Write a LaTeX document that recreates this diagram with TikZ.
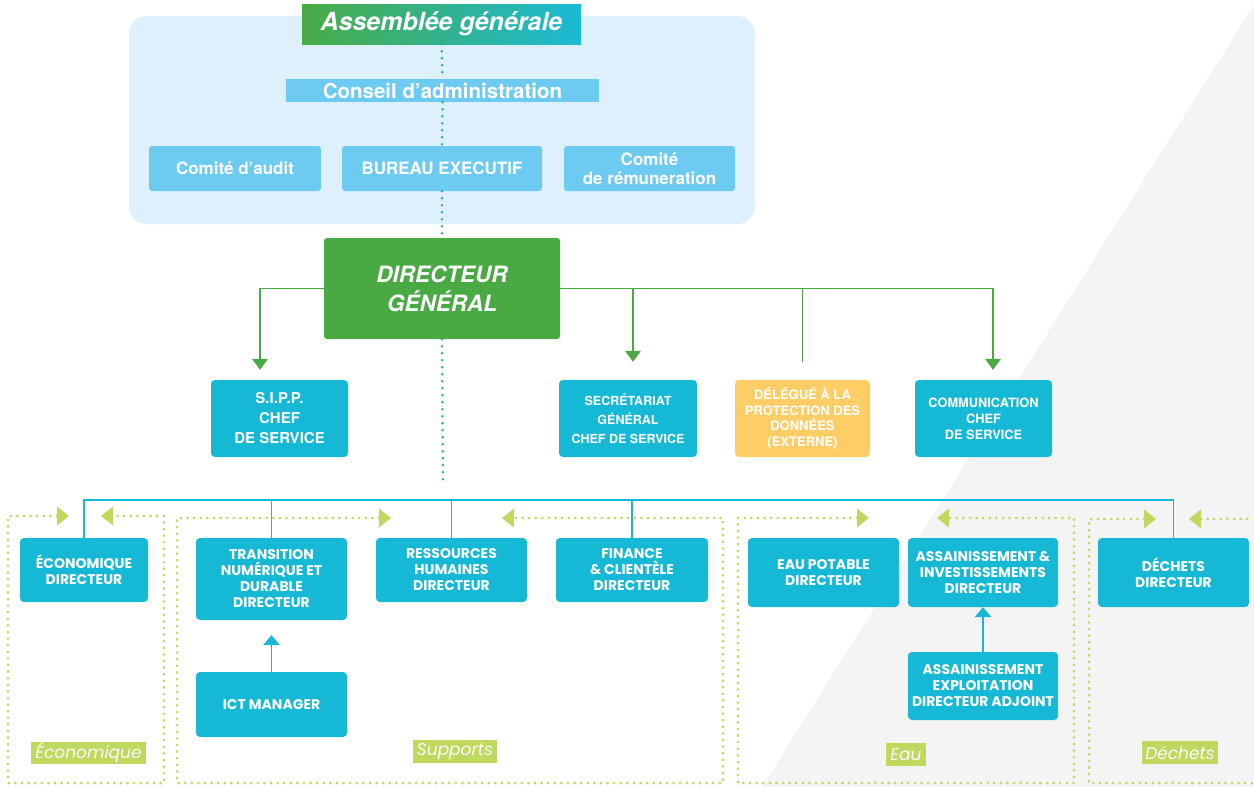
\documentclass[tikz,border=0pt]{standalone}
\usepackage{fontspec}
\setmainfont{TeX Gyre Heros}
\newfontfamily\pop{Poppins}
\usetikzlibrary{arrows.meta,calc}
\definecolor{cy}{HTML}{15B9D5}
\definecolor{lcy}{HTML}{6DCBF2}
\definecolor{bgb}{HTML}{DDF0FB}
\definecolor{gr}{HTML}{49A942}
\definecolor{lime}{HTML}{BFD85E}
\definecolor{org}{HTML}{FECD66}
\definecolor{tealdot}{HTML}{2BB38D}
\definecolor{grayback}{HTML}{F4F4F4}
\definecolor{agl}{HTML}{49AB45}
\definecolor{agr}{HTML}{1BBAD6}
\begin{document}
\begin{tikzpicture}[x=1pt,y=-1pt,
  every node/.style={inner sep=0pt, align=center, text=white},
  topbox/.style={fill=lcy, rounded corners=3pt, font=\bfseries\fontsize{17}{18.5}\selectfont},
  cbox/.style={fill=cy, rounded corners=4pt, font=\pop\bfseries\fontsize{14}{16}\selectfont},
  mbox/.style={fill=cy, rounded corners=4pt},
  grp/.style={fill=lime, font=\pop\itshape\fontsize{17}{17}\selectfont},
  dots/.style={draw=lime, line width=3pt, dash pattern=on 0pt off 6.6pt, line cap=round},
  ltip/.tip={Triangle[width=19pt,length=12pt,line width=0pt]},
  gline/.style={draw=gr, line width=1.6pt},
  gtip/.tip={Triangle[width=16pt,length=11pt,line width=0pt]},
  ctip/.tip={Triangle[width=17pt,length=10pt,line width=0pt]},
  bus/.style={draw=cy, line width=1.8pt},
  tdots/.style={draw=tealdot, line width=2.8pt, dash pattern=on 0pt off 7pt, line cap=round},
]
\useasboundingbox (0,0) rectangle (1254,787);
\fill[white] (0,0) rectangle (1254,787);
\fill[grayback] (1254,5) -- (1254,787) -- (762,787) -- cycle;
\fill[bgb, rounded corners=18pt] (129,16) rectangle (755,224);

% top
\node[minimum width=279pt, minimum height=40pt, left color=agl, right color=agr,
  font=\bfseries\itshape\fontsize{25}{25}\selectfont] (ag) at (441.5,24) {Assemblée générale};
\node[fill=lcy, minimum width=313pt, minimum height=23pt,
  font=\bfseries\fontsize{20.5}{20.5}\selectfont] (ca) at (442.5,90.5) {Conseil d’administration};
\node[topbox, minimum width=172pt, minimum height=45pt] (audit) at (235,168.5) {Comité d’audit};
\node[topbox, minimum width=200pt, minimum height=45pt] (be) at (442,168.5) {BUREAU EXECUTIF};
\node[topbox, minimum width=171pt, minimum height=45pt] (rem) at (649.5,168.5) {Comité\\de rémuneration};

\node[fill=gr, rounded corners=3pt, minimum width=236pt, minimum height=101pt,
  font=\bfseries\itshape\fontsize{22.5}{29}\selectfont] (dg) at (442,288.5) {DIRECTEUR\\GÉNÉRAL};

% middle row
\node[mbox, minimum width=137pt, minimum height=77pt, font=\bfseries\fontsize{15}{20}\selectfont] (sipp) at (279.5,418.5) {S.I.P.P.\\CHEF\\DE SERVICE};
\node[mbox, minimum width=138pt, minimum height=77pt, font=\bfseries\fontsize{12.5}{19}\selectfont] (sec) at (628,418.5) {SECRÉTARIAT\\GÉNÉRAL\\CHEF DE SERVICE};
\node[mbox, fill=org, minimum width=135pt, minimum height=77pt, font=\bfseries\fontsize{13}{15.5}\selectfont] (del) at (802.5,418.5) {DÉLÉGUÉ À LA\\PROTECTION DES\\DONNÉES\\(EXTERNE)};
\node[mbox, minimum width=137pt, minimum height=77pt, font=\bfseries\fontsize{12.8}{16}\selectfont] (comm) at (983.5,418.5) {COMMUNICATION\\CHEF\\DE SERVICE};

% bottom row
\node[cbox, minimum width=128pt, minimum height=64pt] (eco) at (84,570) {ÉCONOMIQUE\\DIRECTEUR};
\node[cbox, minimum width=151pt, minimum height=82pt] (trans) at (271.5,579) {TRANSITION\\NUMÉRIQUE ET\\DURABLE\\DIRECTEUR};
\node[cbox, minimum width=151pt, minimum height=65pt] (ict) at (271.5,704.5) {ICT MANAGER};
\node[cbox, minimum width=151pt, minimum height=64pt] (rh) at (451.5,570) {RESSOURCES\\HUMAINES\\DIRECTEUR};
\node[cbox, minimum width=152pt, minimum height=64pt] (fin) at (632,570) {FINANCE\\\& CLIENTÈLE\\DIRECTEUR};
\node[cbox, minimum width=151pt, minimum height=69pt] (eau) at (823.5,572.5) {EAU POTABLE\\DIRECTEUR};
\node[cbox, minimum width=150pt, minimum height=69pt] (ai) at (983,572.5) {ASSAINISSEMENT \&\\INVESTISSEMENTS\\DIRECTEUR};
\node[cbox, minimum width=150pt, minimum height=68pt] (ae) at (983,686) {ASSAINISSEMENT\\EXPLOITATION\\DIRECTEUR ADJOINT};
\node[cbox, minimum width=151pt, minimum height=69pt] (dech) at (1173.5,572.5) {DÉCHETS\\DIRECTEUR};

% group labels
\node[grp, minimum width=115pt, minimum height=22pt] (lecon) at (88.5,753) {Économique};
\node[grp, minimum width=84pt, minimum height=23pt] (lsup) at (455,751.5) {Supports};
\node[grp, minimum width=40pt, minimum height=23pt] (leau) at (906,754.5) {Eau};
\node[grp, minimum width=76pt, minimum height=23pt] (ldech) at (1180,752.5) {Déchets};

% group frames
\draw[dots, ltip-ltip] (69,516) -- (8,516) -- (8,783) -- (164,783) -- (164,516) -- (101,516);
\draw[dots, ltip-ltip] (391,518) -- (177,518) -- (177,783) -- (723,783) -- (723,518) -- (502,518);
\draw[dots, ltip-ltip] (869,518) -- (738,518) -- (738,783) -- (1074,783) -- (1074,518) -- (937,518);
\draw[dots, ltip-] (1156,519) -- (1089,519) -- (1089,783) -- (1252,783);
\draw[dots, ltip-] (1189,519) -- (1252,519);

% dotted teal spine
\coordinate (busdot) at (443,486);
\draw[tdots] (ag.south) -- (ca.north);
\draw[tdots] (ca.south) -- (be.north);
\draw[tdots] (be.south) -- (dg.north);
\draw[tdots] (dg.south) -- (busdot);

% green links
\coordinate (sippd) at ($(sipp.north)+(-19.5,0)$);
\coordinate (secd) at ($(sec.north)+(5,0)$);
\coordinate (commd) at ($(comm.north)+(9.5,0)$);
\draw[gline, -gtip, shorten >=10pt] (dg.west) -| (sippd);
\draw[gline, -gtip, shorten >=10pt] (dg.east) -| (commd);
\draw[gline, -gtip, shorten >=18pt] (secd |- dg.east) -- (secd);
\draw[gline, shorten >=18pt] (del.north |- dg.east) -- (del.north);

% cyan bus
\coordinate (bus) at (443,500);
\draw[bus] (eco.north) |- (bus) -| (dech.north);
\draw[bus] (trans.north) -- (trans.north |- bus);
\draw[bus] (rh.north) -- (rh.north |- bus);
\draw[bus] (fin.north) -- (fin.north |- bus);

% sub arrows
\draw[bus, -ctip, shorten >=15pt] (ict.north) -- (trans.south);
\draw[bus, -ctip] (ae.north) -- (ai.south);
\end{tikzpicture}
\end{document}
